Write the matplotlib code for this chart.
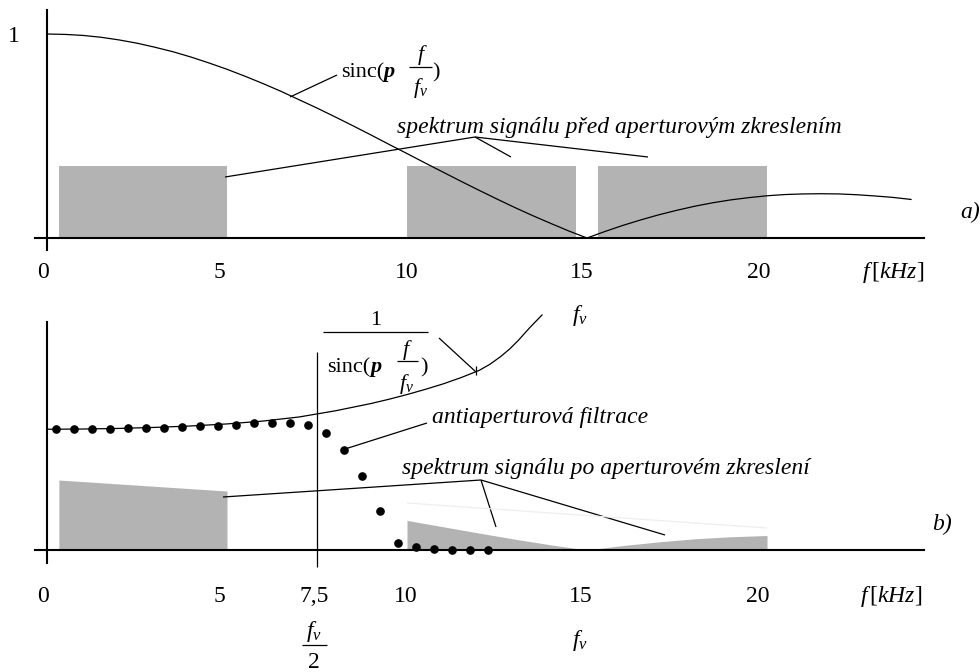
import matplotlib
matplotlib.use('Agg')
import matplotlib.pyplot as plt
from matplotlib.transforms import offset_copy

plt.rcParams['font.family'] = ['Liberation Serif', 'DejaVu Serif']
plt.rcParams['mathtext.fontset'] = 'custom'
plt.rcParams['mathtext.rm'] = 'Liberation Serif'
plt.rcParams['mathtext.it'] = 'Liberation Serif:italic'
plt.rcParams['mathtext.bf'] = 'Liberation Serif:bold'

# ---------------- data ----------------
# a) |sinc(pi f / fv)|, fv = 15 kHz
sinc_f = [0, 0.5, 1, 1.5, 2, 2.5, 3, 3.5, 4, 4.5, 5, 5.5, 6, 6.5, 7, 7.5,
          8, 8.5, 9, 9.5, 10, 10.5, 11, 11.5, 12, 12.5, 13, 13.5, 14, 14.5,
          15, 15.5, 16, 16.5, 17, 17.5, 18, 18.5, 19, 19.5, 20, 20.5, 21,
          21.5, 22, 22.5, 23, 23.5, 24]
sinc_mag = [1.0, 0.998, 0.993, 0.984, 0.971, 0.955, 0.935, 0.913, 0.887,
            0.858, 0.827, 0.793, 0.757, 0.719, 0.678, 0.637, 0.594, 0.550,
            0.505, 0.459, 0.414, 0.368, 0.323, 0.278, 0.234, 0.191, 0.149,
            0.109, 0.071, 0.034, 0.0, 0.032, 0.062, 0.089, 0.114, 0.136,
            0.156, 0.173, 0.187, 0.198, 0.207, 0.213, 0.216, 0.217, 0.216,
            0.212, 0.206, 0.199, 0.189]

# spectrum before aperture distortion (bands)
band_start = [0.33, 10.0, 15.3]
band_end = [5.0, 14.7, 20.0]
band_level = [0.353, 0.353, 0.353]

# b) spectrum after aperture distortion
dist1_f = [0.33, 5.0]
dist1_v = [0.343, 0.289]
dist2_f = [10.0, 11.0, 12.0, 13.0, 14.0, 15.0]
dist2_v = [0.145, 0.114, 0.083, 0.053, 0.025, 0.0]
dist3_f = [15.0, 16.0, 17.0, 18.0, 19.0, 20.0]
dist3_v = [0.0, 0.022, 0.040, 0.055, 0.065, 0.071]

# 1/sinc curve (schematic)
inv_f = [0, 1, 2, 3, 4, 5, 6, 7, 8, 9, 9.5, 10, 10.5, 11, 11.5, 12,
         12.3, 12.6, 12.85, 13.1, 13.4, 13.75]
inv_v = [0.592, 0.593, 0.596, 0.601, 0.608, 0.618, 0.632, 0.652, 0.682,
         0.718, 0.739, 0.762, 0.787, 0.814, 0.845, 0.880, 0.910, 0.948,
         0.985, 1.029, 1.088, 1.152]

# anti-aperture filter (dots)
filt_f = [0.25, 0.75, 1.25, 1.75, 2.25, 2.75, 3.25, 3.75, 4.25, 4.75,
          5.25, 5.75, 6.25, 6.75, 7.25, 7.75, 8.25, 8.75, 9.25, 9.75,
          10.25, 10.75, 11.25, 11.75, 12.25]
filt_v = [0.592, 0.592, 0.592, 0.593, 0.596, 0.598, 0.600, 0.603, 0.608,
          0.610, 0.614, 0.621, 0.624, 0.623, 0.613, 0.572, 0.490, 0.364,
          0.191, 0.033, 0.015, 0.003, 0.0, 0.0, 0.0]

fv_half = 7.5

ticks_top = [0, 5, 10, 15, 20]
labels_top = ['0', '5', '10', '15', '20']
ticks_bot = [0, 5, 7.5, 10, 15, 20]
labels_bot = ['0', '5', '7,5', '10', '15', '20']

# ---------------- layout ----------------
W, H = 980, 672
X0, PXK, PXU = 47, 36.0, 204.0
GRAY = '#b3b3b3'
FS = 17
FS_F = 16

fig = plt.figure(figsize=(W / 100, H / 100), dpi=100)

def make_axes(top_px, bot_px, base_px):
    ax = fig.add_axes([0, (H - bot_px) / H, 1, (bot_px - top_px) / H])
    ax.set_xlim(-X0 / PXK, (W - X0) / PXK)
    ax.set_ylim((base_px - bot_px) / PXU, (base_px - top_px) / PXU)
    ax.set_facecolor('none')
    for s in ['top', 'right']:
        ax.spines[s].set_visible(False)
    for s in ['left', 'bottom']:
        ax.spines[s].set_position(('data', 0))
        ax.spines[s].set_linewidth(1.5)
    ax.set_xticks([])
    ax.set_yticks([])
    return ax

ax1 = make_axes(0, 300, 238)
ax2 = make_axes(300, H, 550)

ax1.spines['left'].set_bounds((238 - 250) / PXU, (238 - 10) / PXU)
ax1.spines['bottom'].set_bounds((35 - X0) / PXK, (924 - X0) / PXK)
ax2.spines['left'].set_bounds((550 - 563) / PXU, (550 - 322) / PXU)
ax2.spines['bottom'].set_bounds((35 - X0) / PXK, (924 - X0) / PXK)

# ---- panel a ----
ax1.bar(band_start, band_level,
        width=[e - s for s, e in zip(band_start, band_end)],
        align='edge', color=GRAY, edgecolor='none', zorder=1)
ax1.plot(sinc_f, sinc_mag, color='black', lw=0.9, zorder=3)

# ---- panel b ----
ax2.fill_between(dist1_f, dist1_v, 0, color=GRAY, lw=0, zorder=1)
ax2.fill_between(dist2_f, dist2_v, 0, color=GRAY, lw=0, zorder=1)
ax2.fill_between(dist3_f, dist3_v, 0, color=GRAY, lw=0, zorder=1)
ax2.plot(inv_f, inv_v, color='black', lw=0.9, zorder=3)
ax2.plot(filt_f, filt_v, 'o', color='black', markersize=5.2, zorder=4)
ax2.vlines(fv_half, (550 - 567) / PXU, (550 - 352) / PXU, color='black', lw=0.9)

# tick labels
def tick_texts(ax, vals, labs, nudges, dy):
    for v, lab, dx in zip(vals, labs, nudges):
        tr = offset_copy(ax.transData, fig=fig, x=dx, y=dy, units='dots')
        ax.text(v, 0, lab, transform=tr, ha='center', va='baseline', fontsize=FS)

tick_texts(ax1, ticks_top, labels_top, [-4.5, -8, 0, -5, -8], -40)
tick_texts(ax2, ticks_bot, labels_bot, [-4.5, -8, -3, -1, -6, -9], -52)
ax1.text(0, 1, '1', transform=offset_copy(ax1.transData, fig=fig, x=-33, y=-8, units='dots'),
         ha='center', va='baseline', fontsize=FS)

# ---------------- annotation overlay (pixel coords) ----------------
ov = fig.add_axes([0, 0, 1, 1])
ov.set_xlim(0, W)
ov.set_ylim(H, 0)
ov.axis('off')

def line(x0, y0, x1, y1, lw=0.9, color='black'):
    ov.plot([x0, x1], [y0, y1], color=color, lw=lw, solid_capstyle='butt')

def txt(x, y, s, ha='left', style='normal', weight='normal', fs=FS):
    ov.text(x, y, s, ha=ha, va='baseline', fontsize=fs, style=style, fontweight=weight)

# axis unit labels
txt(893, 278, r'$f\,[kHz]$', ha='center')
txt(891, 602, r'$f\,[kHz]$', ha='center')
txt(970, 218, 'a)', ha='center', style='italic')
txt(942, 530, 'b)', ha='center', style='italic')

# fv/2 and fv
txt(314, 637, r'$f_v$', ha='center')
line(302, 645, 327, 645)
txt(314, 668, '2', ha='center')
txt(580, 646, r'$f_v$', ha='center')
txt(580, 321, r'$f_v$', ha='center')

# sinc label (panel a)
txt(341, 77, 'sinc(', fs=FS_F)
txt(384, 77, 'p', style='italic', weight='bold', fs=FS_F)
txt(422, 60, r'$f$', ha='center', fs=FS_F)
line(409, 67, 432, 67)
txt(421, 93, r'$f_v$', ha='center', fs=FS_F)
txt(432, 77, ')', fs=FS_F)
line(337, 75, 290, 97)

# spectrum label (panel a)
txt(397, 133, 'spektrum signálu před aperturovým zkreslením', style='italic')
line(475, 137, 225, 177)
line(475, 137, 511, 157)
line(475, 137, 648, 157)

# 1/sinc label (panel b)
txt(376, 325, '1', ha='center', fs=FS_F)
line(323, 332, 428, 332)
txt(327, 372, 'sinc(', fs=FS_F)
txt(371, 372, 'p', style='italic', weight='bold', fs=FS_F)
txt(407, 355, r'$f$', ha='center', fs=FS_F)
line(397, 361, 418, 361)
txt(407, 389, r'$f_v$', ha='center', fs=FS_F)
txt(420, 372, ')', fs=FS_F)
line(439, 338, 476, 372)
line(476, 366, 476, 375)

# anti-aperture label
txt(432, 423, 'antiaperturová filtrace', style='italic')
line(427, 423, 345, 449)

# spectrum label (panel b)
txt(402, 474, 'spektrum signálu po aperturovém zkreslení', style='italic')
line(481, 480, 223, 497)
line(481, 480, 496, 527)
line(481, 480, 665, 535)
line(407, 503, 767, 528, color='#eeeeee')

fig.savefig('out.png', dpi=100)
